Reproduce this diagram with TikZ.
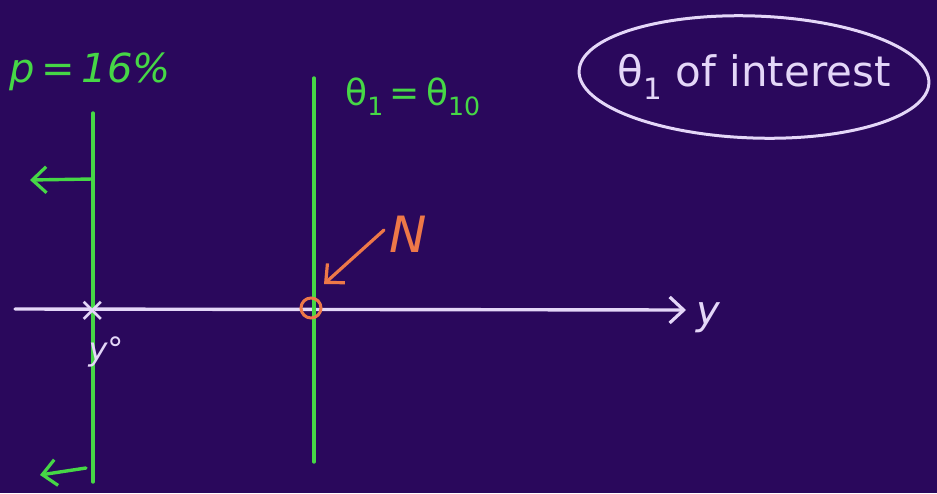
\documentclass[tikz,border=0pt]{standalone}
\usepackage{fontspec}
\setmainfont{DejaVu Sans}
\usetikzlibrary{arrows.meta,shapes.geometric}
\definecolor{bgpurple}{RGB}{42,8,92}
\definecolor{chalkgreen}{RGB}{70,215,70}
\definecolor{chalkwhite}{RGB}{228,215,248}
\definecolor{chalkorange}{RGB}{238,120,72}
\tikzset{
  greenline/.style={draw=chalkgreen, line width=3.4pt, line cap=round},
  whiteline/.style={draw=chalkwhite, line width=3.4pt, line cap=round},
  orangeline/.style={draw=chalkorange, line width=3.2pt, line cap=round},
  greentext/.style={text=chalkgreen, inner sep=0pt, font=\fontsize{36}{40}\selectfont},
  whitetext/.style={text=chalkwhite, inner sep=0pt, font=\fontsize{36}{40}\selectfont},
  orangetext/.style={text=chalkorange, inner sep=0pt, font=\fontsize{44}{50}\selectfont},
  openhead/.style={-{Straight Barb[length=14pt,width=26pt,line width=3.2pt]}},
}
\begin{document}
\begin{tikzpicture}[x=1pt,y=-1pt]
  \fill[bgpurple] (0,0) rectangle (937,493);
  \useasboundingbox (0,0) rectangle (937,493);

  % axis
  \coordinate (axL) at (15,309);
  \coordinate (axR) at (686,310);
  \draw[whiteline, openhead] (axL) -- (axR);
  \node[whitetext, font=\fontsize{40}{46}\selectfont] (ylab) at (708,318) {\itshape y};

  % left vertical line
  \coordinate (l1top) at (93,113);
  \coordinate (l1bot) at (93,482);
  \draw[greenline] (l1top) -- (l1bot);
  \coordinate (a1s) at (93,179);
  \coordinate (a1e) at (30,180);
  \draw[greenline, openhead] (a1s) -- (a1e);
  \coordinate (a2s) at (86,468);
  \coordinate (a2e) at (40,475);
  \draw[greenline, openhead] (a2s) -- (a2e);
  \node[greentext, font=\fontsize{40}{46}\selectfont] (plab) at (90,72) {\itshape p\,=\,16\%};

  % x mark and y0
  \node[whitetext, font=\fontsize{34}{38}\selectfont] (xmark) at (93,311) {×};
  \node[whitetext, font=\fontsize{32}{36}\selectfont] (y0) at (106,352) {\itshape y°};

  % middle vertical line
  \coordinate (l2top) at (314,78);
  \coordinate (l2bot) at (314,462);
  \draw[greenline] (l2top) -- (l2bot);
  \node[greentext] (theta) at (413,97) {θ\textsubscript{1}\,=\,θ\textsubscript{10}};

  % orange circle and N
  \node[draw=chalkorange, line width=3pt, circle, minimum size=20pt, inner sep=0pt] (circ) at (311,308) {};
  \node[orangetext, font=\fontsize{50}{56}\selectfont] (N) at (408,234) {\itshape N};
  \coordinate (nstart) at (384,230);
  \coordinate (nend) at (324,284);
  \draw[orangeline, openhead] (nstart) -- (nend);

  % ellipse label
  \node[draw=chalkwhite, line width=3pt, ellipse, minimum width=350pt, minimum height=122pt, inner sep=0pt, rotate=-2] (interest) at (754,77) {};
  \node[whitetext, font=\fontsize{42}{48}\selectfont] (interesttext) at (interest.center) {θ\textsubscript{1} of interest};
\end{tikzpicture}
\end{document}
